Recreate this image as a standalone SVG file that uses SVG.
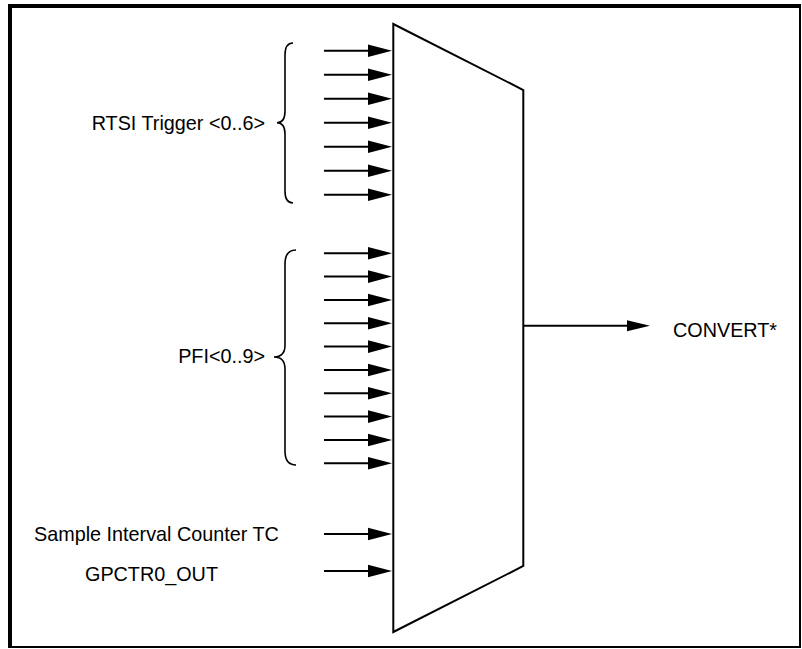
<svg xmlns="http://www.w3.org/2000/svg" width="802" height="649" viewBox="0 0 802 649">
  <defs>
    <!-- filled arrowhead; starts where the shaft ends -->
    <marker id="head" markerUnits="userSpaceOnUse" markerWidth="26" markerHeight="16" viewBox="0 -8 26 16" refX="1" refY="0" orient="auto">
      <path d="M0,-6.3 L24,0 L0,6.3 z" fill="#000"/>
    </marker>
    <marker id="headOut" markerUnits="userSpaceOnUse" markerWidth="26" markerHeight="16" viewBox="0 -8 26 16" refX="1" refY="0" orient="auto">
      <path d="M0,-5.5 L23,0 L0,5.5 z" fill="#000"/>
    </marker>
  </defs>
  <style>
    .lbl { font-family: "Liberation Sans", Arial, sans-serif; font-size: 19.8px; fill: #000; }
    .wire { stroke: #000; stroke-width: 2; fill: none; marker-end: url(#head); }
    .brace { stroke: #000; stroke-width: 1.6; fill: none; }
    .frame { stroke: #000; fill: none; }
  </style>

  <rect width="802" height="649" fill="#fff"/>

  <!-- outer frame: heavy top/left, light bottom/right -->
  <g id="frame">
    <line class="frame" x1="10" y1="4" x2="10" y2="648" stroke-width="4"/>
    <line class="frame" x1="8" y1="6" x2="801" y2="6" stroke-width="4"/>
    <line class="frame" x1="800" y1="4" x2="800" y2="648" stroke-width="2"/>
    <line class="frame" x1="8" y1="647" x2="801" y2="647" stroke-width="2"/>
  </g>

  <!-- multiplexer -->
  <g id="mux">
    <path d="M393.3,24 L523.3,90 L523.3,566 L393.3,632 Z" fill="#fff" stroke="#000" stroke-width="2" stroke-linejoin="miter"/>
  </g>

  <!-- RTSI Trigger <0..6> -->
  <g id="rtsi">
    <text class="lbl" x="265" y="129.8" text-anchor="end">RTSI Trigger &lt;0..6&gt;</text>
    <path class="brace" d="M293,43 Q285,43 285,55 L285,111 Q285,122.7 277,122.7 Q285,122.7 285,134 L285,191 Q285,203 293,203"/>
  </g>

  <!-- PFI<0..9> -->
  <g id="pfi">
    <text class="lbl" x="265" y="363" text-anchor="end">PFI&lt;0..9&gt;</text>
    <path class="brace" d="M296,250 Q285,250 285,264 L285,345 Q285,357 274,357 Q285,357 285,369 L285,451 Q285,465 296,465"/>
  </g>

  <g id="sic">
    <text class="lbl" x="34" y="541">Sample Interval Counter TC</text>
  </g>

  <g id="gpctr0">
    <text class="lbl" x="85" y="581">GPCTR0_OUT</text>
  </g>

  <g id="convert">
    <text class="lbl" x="673" y="337">CONVERT*</text>
  </g>

  <g id="connectors">
    <!-- RTSI inputs -->
    <line class="wire" x1="324" y1="50.7" x2="369" y2="50.7"/>
    <line class="wire" x1="324" y1="74.7" x2="369" y2="74.7"/>
    <line class="wire" x1="324" y1="98.7" x2="369" y2="98.7"/>
    <line class="wire" x1="324" y1="122.7" x2="369" y2="122.7"/>
    <line class="wire" x1="324" y1="146.7" x2="369" y2="146.7"/>
    <line class="wire" x1="324" y1="170.7" x2="369" y2="170.7"/>
    <line class="wire" x1="324" y1="194.7" x2="369" y2="194.7"/>
    <!-- PFI inputs -->
    <line class="wire" x1="324" y1="253.3" x2="369" y2="253.3"/>
    <line class="wire" x1="324" y1="276.6" x2="369" y2="276.6"/>
    <line class="wire" x1="324" y1="300" x2="369" y2="300"/>
    <line class="wire" x1="324" y1="323.3" x2="369" y2="323.3"/>
    <line class="wire" x1="324" y1="346.6" x2="369" y2="346.6"/>
    <line class="wire" x1="324" y1="370" x2="369" y2="370"/>
    <line class="wire" x1="324" y1="393.3" x2="369" y2="393.3"/>
    <line class="wire" x1="324" y1="416.6" x2="369" y2="416.6"/>
    <line class="wire" x1="324" y1="440" x2="369" y2="440"/>
    <line class="wire" x1="324" y1="463.3" x2="369" y2="463.3"/>
    <!-- counter inputs -->
    <line class="wire" x1="324" y1="534" x2="369" y2="534"/>
    <line class="wire" x1="324" y1="571" x2="369" y2="571"/>
    <!-- output -->
    <line x1="524" y1="325.7" x2="628" y2="325.7" stroke="#000" stroke-width="2" marker-end="url(#headOut)"/>
  </g>
</svg>
